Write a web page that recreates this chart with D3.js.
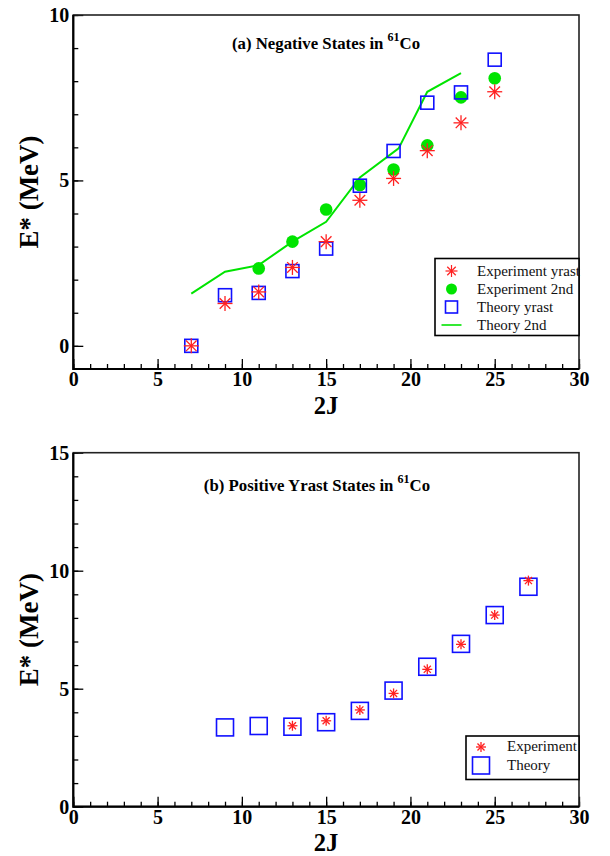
<!DOCTYPE html>
<meta charset="utf-8">
<script src="https://d3js.org/d3.v7.min.js"></script>
<style>
  body { margin: 0; background: #fff; }
  text { font-family: "Liberation Serif", "Times New Roman", serif; }
</style>
<div id="chart"></div>
<script>
// ---- data ----
// panel (a): negative parity states
var negJ = [7, 9, 11, 13, 15, 17, 19, 21, 23, 25];
var negExpYrast = [0, 1.28, 1.63, 2.37, 3.15, 4.4, 5.06, 5.9, 6.74, 7.68];
var neg2ndJ = [11, 13, 15, 17, 19, 21, 23, 25];
var negExp2nd = [2.34, 3.15, 4.12, 4.86, 5.33, 6.06, 7.51, 8.09];
var negThYrast = [0, 1.53, 1.6, 2.26, 2.94, 4.84, 5.89, 7.35, 7.66, 8.65];
var thLineJ = [7, 9, 11, 13, 15, 17, 19.3, 21, 23];
var negTh2nd = [1.58, 2.24, 2.44, 3.15, 3.75, 5.09, 5.97, 7.68, 8.24];

// panel (b): positive yrast states
var posThJ = [9, 11, 13, 15, 17, 19, 21, 23, 25, 27];
var posTheory = [3.36, 3.42, 3.39, 3.58, 4.06, 4.92, 5.93, 6.9, 8.12, 9.32];
var posExpJ = [13, 15, 17, 19, 21, 23, 25, 27];
var posExp = [3.43, 3.64, 4.1, 4.8, 5.82, 6.88, 8.12, 9.58];

var xTicks = [0, 5, 10, 15, 20, 25, 30];

var W = 610, H = 856;
var svg = d3.select("#chart").append("svg")
    .attr("width", W).attr("height", H);

var RED = "#ff2020", GREEN = "#00e400", BLUE = "#1010ff";

function asterisk(g, x, y, r, w) {
    var a = g.append("g").attr("transform", "translate(" + x + "," + y + ")");
    [0, 45, 90, 135].forEach(function(ang) {
        var rad = ang * Math.PI / 180;
        a.append("line")
            .attr("x1", -r * Math.cos(rad)).attr("y1", -r * Math.sin(rad))
            .attr("x2", r * Math.cos(rad)).attr("y2", r * Math.sin(rad))
            .attr("stroke", RED).attr("stroke-width", w);
    });
}
function square(g, x, y, s) {
    g.append("rect").attr("x", x - s / 2).attr("y", y - s / 2)
        .attr("width", s).attr("height", s)
        .attr("fill", "none").attr("stroke", BLUE).attr("stroke-width", 1.6);
}

function panel(top, bottom, yDom, yMajor, jBase) {
    var x = d3.scaleLinear().domain([0, 30]).range([73.3, 579]);
    var y = d3.scaleLinear().domain(yDom).range([bottom, top]);
    var g = svg.append("g");

    // minor ticks
    g.append("g").attr("transform", "translate(0," + bottom + ")")
        .call(d3.axisBottom(x).tickValues(d3.range(0, 31, 1)).tickSize(-5).tickFormat(""))
        .call(s => s.select(".domain").remove());
    g.append("g").attr("transform", "translate(73.3,0)")
        .call(d3.axisLeft(y).tickValues(d3.range(Math.ceil(yDom[0]), yDom[1] + 1, 1)).tickSize(-5).tickFormat(""))
        .call(s => s.select(".domain").remove());

    // major ticks + labels
    var xa = g.append("g").attr("transform", "translate(0," + bottom + ")")
        .call(d3.axisBottom(x).tickValues(xTicks).tickSize(-10).tickPadding(3));
    var ya = g.append("g").attr("transform", "translate(73.3,0)")
        .call(d3.axisLeft(y).tickValues(yMajor).tickSize(-10).tickPadding(4));
    [xa, ya].forEach(function(a) {
        a.select(".domain").remove();
        a.selectAll("text").attr("font-size", 20).attr("font-weight", "bold")
            .attr("fill", "#000").style("font-family", "'Liberation Serif', serif");
    });
    g.selectAll(".tick line").attr("stroke", "#000").attr("stroke-width", 1.3);

    // frame
    g.append("rect").attr("x", 73.3).attr("y", top)
        .attr("width", 579 - 73.3).attr("height", bottom - top)
        .attr("fill", "none").attr("stroke", "#222").attr("stroke-width", 1.6);
    g.append("path").attr("d", "M73.3," + top + "V" + bottom + "H579")
        .attr("fill", "none").attr("stroke", "#000").attr("stroke-width", 2.2);

    // axis titles
    g.append("text").attr("x", 326).attr("y", jBase)
        .attr("text-anchor", "middle").attr("font-size", 24.5).attr("font-weight", "bold")
        .text("2J");
    g.append("text")
        .attr("transform", "translate(38," + ((top + bottom) / 2) + ") rotate(-90)")
        .attr("text-anchor", "middle").attr("font-size", 27).attr("font-weight", "bold")
        .text("E* (MeV)");
    return {g: g, x: x, y: y};
}

function title(g, x, y, label) {
    var t = g.append("text").attr("x", x).attr("y", y)
        .attr("text-anchor", "middle").attr("font-size", 16.8).attr("font-weight", "bold");
    t.append("tspan").text(label);
    t.append("tspan").attr("font-size", 12).attr("dy", -8).text("61");
    t.append("tspan").attr("dy", 8).text("Co");
}

// ---------- panel (a) ----------
var pa = panel(15, 369, [-0.7, 10], [0, 5, 10], 414);
title(pa.g, 326, 49, "(a) Negative States in ");

pa.g.append("path")
    .datum(thLineJ.map((j, i) => [j, negTh2nd[i]]))
    .attr("fill", "none").attr("stroke", GREEN).attr("stroke-width", 2)
    .attr("d", d3.line().x(d => pa.x(d[0])).y(d => pa.y(d[1])));
neg2ndJ.forEach(function(j, i) {
    pa.g.append("circle").attr("cx", pa.x(j)).attr("cy", pa.y(negExp2nd[i]))
        .attr("r", 6.3).attr("fill", GREEN);
});
negJ.forEach(function(j, i) {
    square(pa.g, pa.x(j), pa.y(negThYrast[i]), 13);
});
negJ.forEach(function(j, i) {
    asterisk(pa.g, pa.x(j), pa.y(negExpYrast[i]), 7.5, 1.3);
});

// legend (a)
var la = pa.g.append("g");
la.append("rect").attr("x", 435).attr("y", 258.5).attr("width", 144).attr("height", 77)
    .attr("fill", "#fff").attr("stroke", "#000").attr("stroke-width", 1.6);
var legA = ["Experiment yrast", "Experiment 2nd", "Theory yrast", "Theory 2nd"];
legA.forEach(function(t, i) {
    var yy = 271 + i * 18;
    la.append("text").attr("x", 477).attr("y", yy + 5).attr("font-size", 15).attr("fill", "#111").text(t);
});
asterisk(la, 451.5, 271, 6, 1.2);
la.append("circle").attr("cx", 451.5).attr("cy", 289).attr("r", 5.5).attr("fill", GREEN);
square(la, 451.5, 307, 12);
la.append("line").attr("x1", 441.5).attr("x2", 461.5).attr("y1", 325).attr("y2", 325)
    .attr("stroke", GREEN).attr("stroke-width", 1.6);

// ---------- panel (b) ----------
var pb = panel(452.7, 806.7, [0, 15], [0, 5, 10, 15], 851);
title(pb.g, 317, 491, "(b) Positive Yrast States in ");

posThJ.forEach(function(j, i) {
    square(pb.g, pb.x(j), pb.y(posTheory[i]), 17);
});
posExpJ.forEach(function(j, i) {
    asterisk(pb.g, pb.x(j), pb.y(posExp[i]), 5, 1.3);
});

// legend (b)
var lb = pb.g.append("g");
lb.append("rect").attr("x", 466).attr("y", 736).attr("width", 113).attr("height", 43.5)
    .attr("fill", "#fff").attr("stroke", "#000").attr("stroke-width", 1.6);
lb.append("text").attr("x", 507).attr("y", 751).attr("font-size", 15).attr("fill", "#111").text("Experiment");
lb.append("text").attr("x", 507).attr("y", 770).attr("font-size", 15).attr("fill", "#111").text("Theory");
asterisk(lb, 481, 747, 5, 1.3);
square(lb, 481, 765.5, 17);
</script>
